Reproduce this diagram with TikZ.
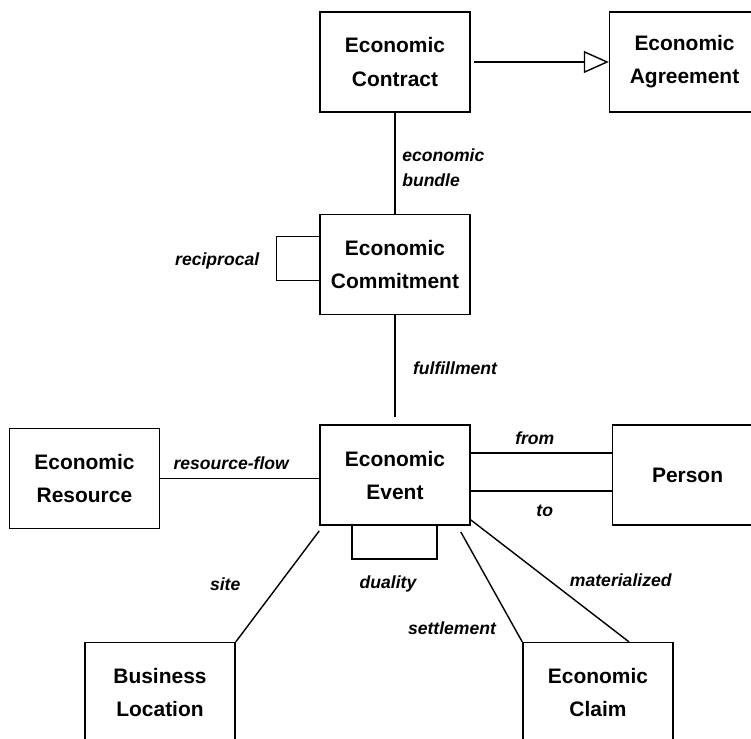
\documentclass[tikz,border=0pt]{standalone}
\usepackage{fontspec}
\setmainfont{Liberation Sans}
\usetikzlibrary{arrows.meta,positioning,calc}

\begin{document}
\begin{tikzpicture}[
    entity/.style={rectangle, draw=black, line width=1.1pt, minimum width=3.75cm, minimum height=2.5cm, inner sep=0pt, align=center, font=\fontsize{14.9}{23.5}\selectfont\bfseries},
    rel/.style={inner sep=0pt, align=left, font=\fontsize{12.5}{17.7}\selectfont\bfseries\itshape},
    link/.style={line width=1pt},
    gen/.style={link, -{Triangle[open, length=0.625cm, width=0.55cm]}}
]
\useasboundingbox (-9.875,1.55) rectangle (8.9,-16.9);
\clip (-9.875,1.55) rectangle (8.9,-16.9);

\node (contract) [entity] {Economic\\Contract};
\node (agreement) [entity, right=3.45cm of contract] {Economic\\Agreement};
\node (commitment) [entity, below=2.525cm of contract] {Economic\\Commitment};
\node (event) [entity, below=2.725cm of commitment] {Economic\\Event};
\node (resource) [entity, left=3.975cm of event, yshift=-0.0875cm] {Economic\\Resource};
\node (person) [entity, right=3.525cm of event] {Person};
\node (location) [entity, below=2.9cm of event, xshift=-5.875cm] {Business\\Location};
\node (claim) [entity, below=2.9cm of event, xshift=5.075cm] {Economic\\Claim};

% relationships
\draw [gen, shorten <=0.075cm] (contract) -- (agreement);
\draw [link] (contract) -- (commitment);
\draw [link, shorten >=0.175cm] (commitment) -- (event);
\draw [link] ([yshift=0.7cm]commitment.west) -- ++(-1.075,0) |- ([yshift=-0.4cm]commitment.west);
\draw [link] (resource.east) -- (event.west |- resource.east);
\draw [link] ([yshift=0.55cm]event.east) -- ([yshift=0.55cm]person.west);
\draw [link] ([yshift=-0.4cm]event.east) -- ([yshift=-0.4cm]person.west);
\draw [link] ([xshift=-1.075cm]event.south) -- ++(0,-0.825) -| ([xshift=1.05cm]event.south);
\draw [link] ([yshift=-0.125cm]event.south west) -- (location.north east);
\draw [link] ([xshift=-0.25cm, yshift=-0.15cm]event.south east) -- (claim.north west);
\draw [link] ([yshift=0.15cm]event.south east) -- ([xshift=0.775cm]claim.north);

% labels
\node (bundle) [rel, anchor=west] at ($(contract.south)+(0.175,-1.375)$) {economic\\bundle};
\node (reciprocal) [rel] at ($(commitment.west)+(-2.55,0.1)$) {reciprocal};
\node (fulfillment) [rel] at ($(commitment.south)+(1.5,-1.325)$) {fulfillment};
\node (flow) [rel] at ($(event.west)+(-2.2,0.3)$) {resource-flow};
\node (from) [rel] at ($(event.east)+(1.6,0.925)$) {from};
\node (to) [rel] at ($(event.east)+(1.85,-0.9)$) {to};
\node (site) [rel] at ($(event.south west)+(-2.35,-1.45)$) {site};
\node (duality) [rel] at ($(event.south)+(-0.175,-1.45)$) {duality};
\node (settlement) [rel] at ($(event.south)+(1.425,-2.55)$) {settlement};
\node (materialized) [rel] at ($(event.south east)+(3.75,-1.35)$) {materialized};

\end{tikzpicture}
\end{document}
